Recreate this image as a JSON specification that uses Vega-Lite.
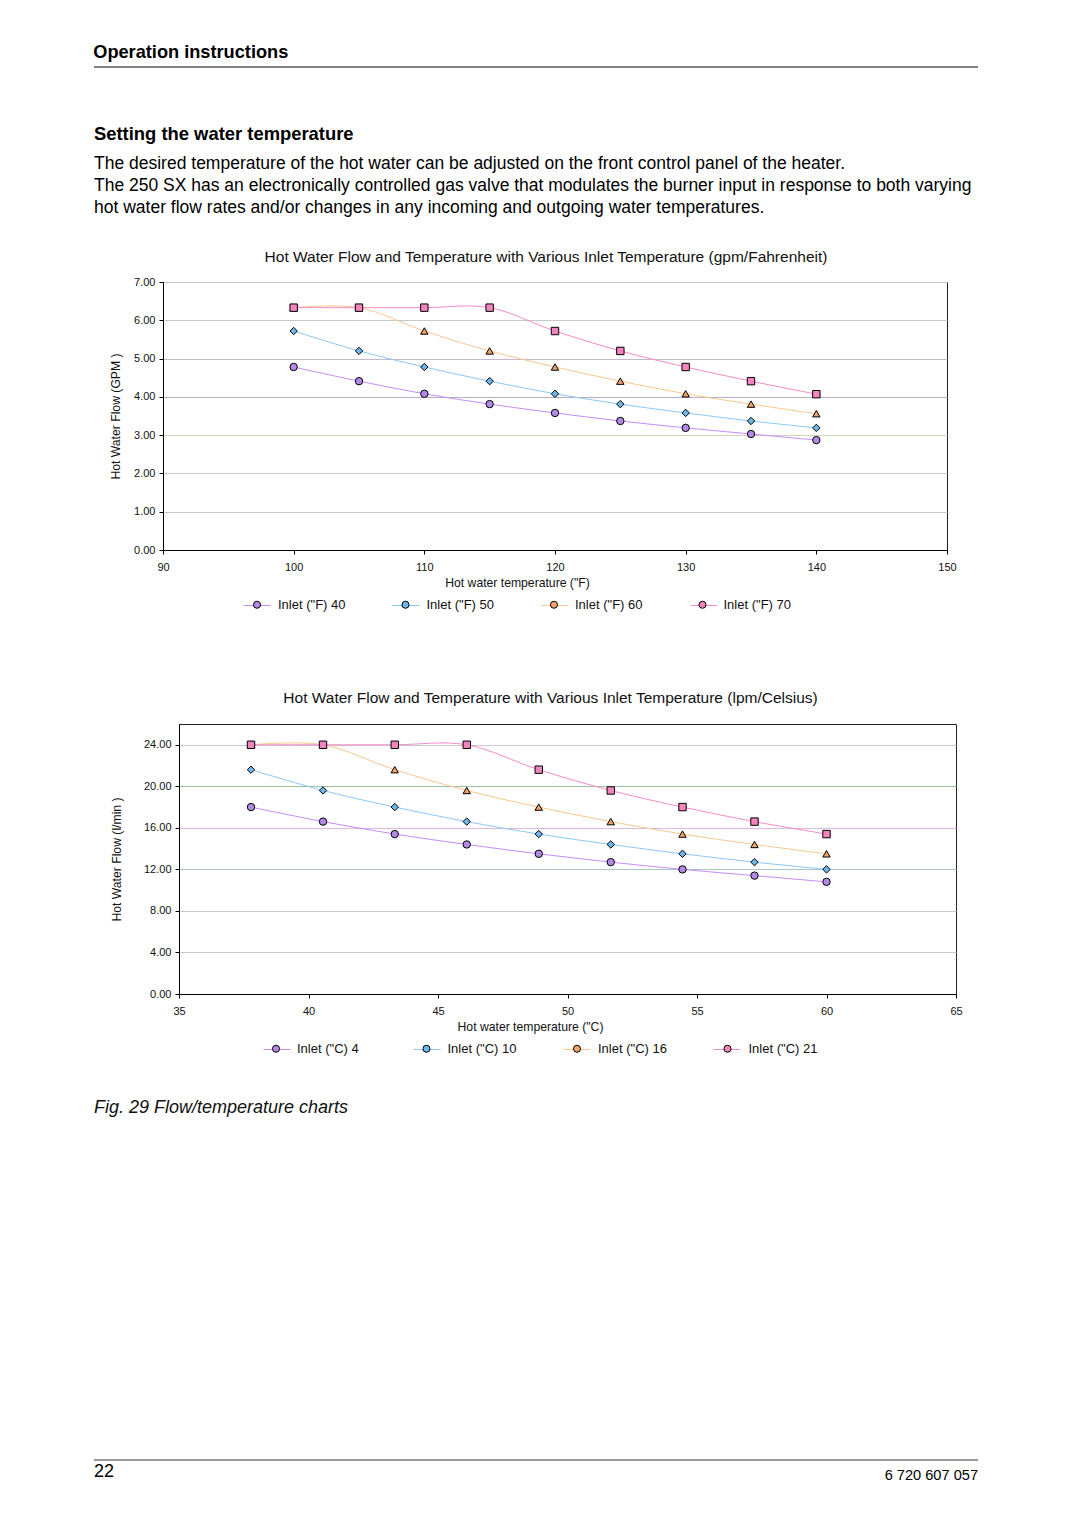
{
  "$schema": "https://vega.github.io/schema/vega-lite/v6.json",
  "background": "white",
  "padding": {"left": 93, "top": 42, "right": 0, "bottom": 0},
  "config": {
    "font": "Liberation Sans",
    "view": {"stroke": null},
    "title": {"font": "Liberation Sans", "fontWeight": "normal", "color": "#111"},
    "axis": {"labelFont": "Liberation Sans", "labelFontSize": 11, "labelColor": "#111", "labelFlush": false, "titleFont": "Liberation Sans", "titleFontSize": 12.2, "titleFontWeight": "normal", "titleColor": "#111", "domainColor": "#000", "tickColor": "#000", "tickSize": 4, "gridColor": "#c8c8c8"},
    "legend": {"labelFont": "Liberation Sans", "labelFontSize": 13, "labelColor": "#111", "padding": 0}
  },
  "columns": 1,
  "spacing": 56,
  "resolve": {"scale": {"color": "independent", "fill": "independent", "shape": "independent"}},
  "concat": [
    {
      "width": 884, "height": 1,
      "title": {"text": "Operation instructions", "anchor": "start", "fontSize": 18.2, "fontWeight": "bold", "color": "#000", "offset": 4},
      "data": {"values": [{"v": 0}]},
      "mark": {"type": "rule", "color": "#555", "strokeWidth": 1.5},
      "encoding": {"y": {"datum": 0, "type": "quantitative", "scale": {"domain": [0, 1]}, "axis": null}}
    },
    {
      "columns": 1,
      "spacing": 77,
      "resolve": {"scale": {"color": "independent", "fill": "independent", "shape": "independent"}},
      "concat": [
        {
          "title": {"text": "Setting the water temperature", "subtitle": ["The desired temperature of the hot water can be adjusted on the front control panel of the heater.", "The 250 SX has an electronically controlled gas valve that modulates the burner input in response to both varying", "hot water flow rates and/or changes in any incoming and outgoing water temperatures."], "anchor": "start", "fontSize": 18.4, "fontWeight": "bold", "color": "#000", "subtitleFont": "Liberation Sans", "subtitleFontSize": 17.5, "subtitleColor": "#000", "subtitlePadding": 12, "subtitleLineHeight": 22, "offset": 33},
          "spacing": 0,
          "resolve": {"scale": {"color": "independent", "fill": "independent", "shape": "independent"}},
          "hconcat": [
            {"width": 15, "height": 10, "data": {"values": []}, "mark": "point"},
            {
              "width": 784, "height": 268,
              "view": {"stroke": "#222", "strokeWidth": 1},
              "title": {"text": "Hot Water Flow and Temperature with Various Inlet Temperature (gpm/Fahrenheit)", "fontSize": 15.5, "anchor": "middle", "dx": -9, "offset": 10.5},
              "data": {"values": [
                {"temp": 100, "flow": 4.78, "series": "Inlet (\"F) 40"},
                {"temp": 105, "flow": 4.41, "series": "Inlet (\"F) 40"},
                {"temp": 110, "flow": 4.08, "series": "Inlet (\"F) 40"},
                {"temp": 115, "flow": 3.81, "series": "Inlet (\"F) 40"},
                {"temp": 120, "flow": 3.58, "series": "Inlet (\"F) 40"},
                {"temp": 125, "flow": 3.37, "series": "Inlet (\"F) 40"},
                {"temp": 130, "flow": 3.19, "series": "Inlet (\"F) 40"},
                {"temp": 135, "flow": 3.03, "series": "Inlet (\"F) 40"},
                {"temp": 140, "flow": 2.87, "series": "Inlet (\"F) 40"},
                {"temp": 100, "flow": 5.72, "series": "Inlet (\"F) 50"},
                {"temp": 105, "flow": 5.2, "series": "Inlet (\"F) 50"},
                {"temp": 110, "flow": 4.78, "series": "Inlet (\"F) 50"},
                {"temp": 115, "flow": 4.41, "series": "Inlet (\"F) 50"},
                {"temp": 120, "flow": 4.08, "series": "Inlet (\"F) 50"},
                {"temp": 125, "flow": 3.81, "series": "Inlet (\"F) 50"},
                {"temp": 130, "flow": 3.58, "series": "Inlet (\"F) 50"},
                {"temp": 135, "flow": 3.37, "series": "Inlet (\"F) 50"},
                {"temp": 140, "flow": 3.19, "series": "Inlet (\"F) 50"},
                {"temp": 100, "flow": 6.33, "series": "Inlet (\"F) 60"},
                {"temp": 105, "flow": 6.33, "series": "Inlet (\"F) 60"},
                {"temp": 110, "flow": 5.72, "series": "Inlet (\"F) 60"},
                {"temp": 115, "flow": 5.2, "series": "Inlet (\"F) 60"},
                {"temp": 120, "flow": 4.78, "series": "Inlet (\"F) 60"},
                {"temp": 125, "flow": 4.41, "series": "Inlet (\"F) 60"},
                {"temp": 130, "flow": 4.08, "series": "Inlet (\"F) 60"},
                {"temp": 135, "flow": 3.81, "series": "Inlet (\"F) 60"},
                {"temp": 140, "flow": 3.56, "series": "Inlet (\"F) 60"},
                {"temp": 100, "flow": 6.33, "series": "Inlet (\"F) 70"},
                {"temp": 105, "flow": 6.33, "series": "Inlet (\"F) 70"},
                {"temp": 110, "flow": 6.33, "series": "Inlet (\"F) 70"},
                {"temp": 115, "flow": 6.33, "series": "Inlet (\"F) 70"},
                {"temp": 120, "flow": 5.72, "series": "Inlet (\"F) 70"},
                {"temp": 125, "flow": 5.2, "series": "Inlet (\"F) 70"},
                {"temp": 130, "flow": 4.78, "series": "Inlet (\"F) 70"},
                {"temp": 135, "flow": 4.41, "series": "Inlet (\"F) 70"},
                {"temp": 140, "flow": 4.07, "series": "Inlet (\"F) 70"}
              ]},
              "encoding": {
                "x": {"field": "temp", "type": "quantitative", "scale": {"domain": [90, 150], "nice": false, "zero": false}, "axis": {"values": [90, 100, 110, 120, 130, 140, 150], "title": "Hot water temperature (\"F)", "grid": false, "labelPadding": 7, "titlePadding": 4, "titleX": 354}},
                "y": {"field": "flow", "type": "quantitative", "scale": {"domain": [0, 7], "nice": false}, "axis": {"values": [0, 1, 2, 3, 4, 5, 6, 7], "format": ".2f", "title": "Hot Water Flow (GPM )", "grid": true, "labelPadding": 4, "titlePadding": 11, "gridColor": {"condition": [{"test": "datum.value === 5", "value": "#c6b8cc"}, {"test": "datum.value === 4", "value": "#b9aec8"}, {"test": "datum.value === 3", "value": "#d6d3bd"}], "value": "#c8c8c8"}}}
              },
              "layer": [
                {
                  "mark": {"type": "line", "interpolate": "cardinal", "strokeWidth": 1},
                  "encoding": {"color": {"field": "series", "type": "nominal", "scale": {"domain": ["Inlet (\"F) 40", "Inlet (\"F) 50", "Inlet (\"F) 60", "Inlet (\"F) 70"], "range": ["#c78cf5", "#8cc8f5", "#f8c890", "#f58cc8"]}, "legend": {"orient": "none", "legendX": 80, "legendY": 309.5, "direction": "horizontal", "columns": 4, "gridAlign": "all", "symbolType": "stroke", "symbolSize": 729, "symbolStrokeWidth": 1, "labelOffset": 7, "columnPadding": 44, "labelOpacity": 0, "labelColor": "transparent", "title": null}}}
                },
                {
                  "mark": {"type": "point", "filled": true, "size": 55, "stroke": "#000", "strokeWidth": 1, "opacity": 1},
                  "encoding": {
                    "fill": {"field": "series", "type": "nominal", "sort": ["Inlet (\"F) 40", "Inlet (\"F) 50", "Inlet (\"F) 60", "Inlet (\"F) 70"], "scale": {"range": ["#b28ae6", "#6fb6e8", "#f2a266", "#f285bd"]}, "legend": {"orient": "none", "legendX": 87.5, "legendY": 316, "direction": "horizontal", "columns": 4, "gridAlign": "all", "symbolSize": 50, "symbolStrokeColor": "#000", "symbolStrokeWidth": 1, "labelOffset": 14.5, "columnPadding": 53.5, "title": null, "encode": {"symbols": {"shape": {"value": {"expr": "['circle','diamond','triangle-up','square'][parent.index]"}}, "stroke": {"value": "#000"}, "strokeWidth": {"value": 1}}}}},
                    "shape": {"field": "series", "type": "nominal", "sort": ["Inlet (\"F) 40", "Inlet (\"F) 50", "Inlet (\"F) 60", "Inlet (\"F) 70"], "scale": {"range": ["circle", "diamond", "triangle-up", "square"]}, "legend": null}
                  }
                }
              ]
            }
          ]
        },
        {
          "title": {"text": "Fig. 29  Flow/temperature charts", "orient": "bottom", "anchor": "start", "fontSize": 18, "fontStyle": "italic", "color": "#111", "offset": 42},
          "spacing": 0,
          "resolve": {"scale": {"color": "independent", "fill": "independent", "shape": "independent"}},
          "hconcat": [
            {"width": 15, "height": 10, "data": {"values": []}, "mark": "point"},
            {
              "width": 777, "height": 270,
              "view": {"stroke": "#222", "strokeWidth": 1},
              "title": {"text": "Hot Water Flow and Temperature with Various Inlet Temperature (lpm/Celsius)", "fontSize": 15.5, "anchor": "middle", "dx": -17, "offset": 17.5},
              "data": {"values": [
                {"temp": 37.78, "flow": 18.0, "series": "Inlet (\"C) 4"},
                {"temp": 40.56, "flow": 16.6, "series": "Inlet (\"C) 4"},
                {"temp": 43.33, "flow": 15.4, "series": "Inlet (\"C) 4"},
                {"temp": 46.11, "flow": 14.4, "series": "Inlet (\"C) 4"},
                {"temp": 48.89, "flow": 13.5, "series": "Inlet (\"C) 4"},
                {"temp": 51.67, "flow": 12.7, "series": "Inlet (\"C) 4"},
                {"temp": 54.44, "flow": 12.0, "series": "Inlet (\"C) 4"},
                {"temp": 57.22, "flow": 11.4, "series": "Inlet (\"C) 4"},
                {"temp": 60.0, "flow": 10.8, "series": "Inlet (\"C) 4"},
                {"temp": 37.78, "flow": 21.6, "series": "Inlet (\"C) 10"},
                {"temp": 40.56, "flow": 19.6, "series": "Inlet (\"C) 10"},
                {"temp": 43.33, "flow": 18.0, "series": "Inlet (\"C) 10"},
                {"temp": 46.11, "flow": 16.6, "series": "Inlet (\"C) 10"},
                {"temp": 48.89, "flow": 15.4, "series": "Inlet (\"C) 10"},
                {"temp": 51.67, "flow": 14.4, "series": "Inlet (\"C) 10"},
                {"temp": 54.44, "flow": 13.5, "series": "Inlet (\"C) 10"},
                {"temp": 57.22, "flow": 12.7, "series": "Inlet (\"C) 10"},
                {"temp": 60.0, "flow": 12.0, "series": "Inlet (\"C) 10"},
                {"temp": 37.78, "flow": 24.0, "series": "Inlet (\"C) 16"},
                {"temp": 40.56, "flow": 24.0, "series": "Inlet (\"C) 16"},
                {"temp": 43.33, "flow": 21.6, "series": "Inlet (\"C) 16"},
                {"temp": 46.11, "flow": 19.6, "series": "Inlet (\"C) 16"},
                {"temp": 48.89, "flow": 18.0, "series": "Inlet (\"C) 16"},
                {"temp": 51.67, "flow": 16.6, "series": "Inlet (\"C) 16"},
                {"temp": 54.44, "flow": 15.4, "series": "Inlet (\"C) 16"},
                {"temp": 57.22, "flow": 14.4, "series": "Inlet (\"C) 16"},
                {"temp": 60.0, "flow": 13.5, "series": "Inlet (\"C) 16"},
                {"temp": 37.78, "flow": 24.0, "series": "Inlet (\"C) 21"},
                {"temp": 40.56, "flow": 24.0, "series": "Inlet (\"C) 21"},
                {"temp": 43.33, "flow": 24.0, "series": "Inlet (\"C) 21"},
                {"temp": 46.11, "flow": 24.0, "series": "Inlet (\"C) 21"},
                {"temp": 48.89, "flow": 21.6, "series": "Inlet (\"C) 21"},
                {"temp": 51.67, "flow": 19.6, "series": "Inlet (\"C) 21"},
                {"temp": 54.44, "flow": 18.0, "series": "Inlet (\"C) 21"},
                {"temp": 57.22, "flow": 16.6, "series": "Inlet (\"C) 21"},
                {"temp": 60.0, "flow": 15.4, "series": "Inlet (\"C) 21"}
              ]},
              "encoding": {
                "x": {"field": "temp", "type": "quantitative", "scale": {"domain": [35, 65], "nice": false, "zero": false}, "axis": {"values": [35, 40, 45, 50, 55, 60, 65], "title": "Hot water temperature (\"C)", "grid": false, "labelPadding": 7, "titlePadding": 4, "titleX": 351}},
                "y": {"field": "flow", "type": "quantitative", "scale": {"domain": [0, 26], "nice": false}, "axis": {"values": [0, 4, 8, 12, 16, 20, 24], "format": ".2f", "title": "Hot Water Flow (l/min  )", "grid": true, "labelPadding": 4, "titlePadding": 20, "gridColor": {"condition": [{"test": "datum.value === 20", "value": "#9cc49c"}, {"test": "datum.value === 16", "value": "#dcb8e2"}, {"test": "datum.value === 12", "value": "#a9c6c2"}], "value": "#c8c8c8"}}}
              },
              "layer": [
                {
                  "mark": {"type": "line", "interpolate": "cardinal", "strokeWidth": 1},
                  "encoding": {"color": {"field": "series", "type": "nominal", "scale": {"domain": ["Inlet (\"C) 4", "Inlet (\"C) 10", "Inlet (\"C) 16", "Inlet (\"C) 21"], "range": ["#c78cf5", "#8cc8f5", "#f8c890", "#f58cc8"]}, "legend": {"orient": "none", "legendX": 84, "legendY": 311.5, "direction": "horizontal", "columns": 4, "gridAlign": "all", "symbolType": "stroke", "symbolSize": 729, "symbolStrokeWidth": 1, "labelOffset": 7, "columnPadding": 44, "labelOpacity": 0, "labelColor": "transparent", "title": null}}}
                },
                {
                  "mark": {"type": "point", "filled": true, "size": 55, "stroke": "#000", "strokeWidth": 1, "opacity": 1},
                  "encoding": {
                    "fill": {"field": "series", "type": "nominal", "sort": ["Inlet (\"C) 4", "Inlet (\"C) 10", "Inlet (\"C) 16", "Inlet (\"C) 21"], "scale": {"range": ["#b28ae6", "#6fb6e8", "#f2a266", "#f285bd"]}, "legend": {"orient": "none", "legendX": 90.5, "legendY": 318, "direction": "horizontal", "columns": 4, "gridAlign": "all", "symbolSize": 50, "symbolStrokeColor": "#000", "symbolStrokeWidth": 1, "labelOffset": 14.5, "columnPadding": 53.5, "title": null, "encode": {"symbols": {"shape": {"value": {"expr": "['circle','diamond','triangle-up','square'][parent.index]"}}, "stroke": {"value": "#000"}, "strokeWidth": {"value": 1}}}}},
                    "shape": {"field": "series", "type": "nominal", "sort": ["Inlet (\"C) 4", "Inlet (\"C) 10", "Inlet (\"C) 16", "Inlet (\"C) 21"], "scale": {"range": ["circle", "diamond", "triangle-up", "square"]}, "legend": null}
                  }
                }
              ]
            }
          ]
        }
      ]
    },
    {
      "width": 884, "height": 287,
      "data": {"values": [{"page": "22", "code": "6 720 607 057"}]},
      "layer": [
        {"mark": {"type": "rule", "color": "#777", "strokeWidth": 1.5}, "encoding": {"y": {"datum": 0, "type": "quantitative", "scale": {"domain": [0, 1]}, "axis": null}}},
        {"mark": {"type": "text", "align": "left", "baseline": "top", "fontSize": 18, "dy": 3, "color": "#000"}, "encoding": {"text": {"field": "page"}, "x": {"datum": 0, "type": "quantitative", "scale": {"domain": [0, 1]}, "axis": null}, "y": {"datum": 0, "type": "quantitative", "scale": {"domain": [0, 1]}, "axis": null}}},
        {"mark": {"type": "text", "align": "right", "baseline": "top", "fontSize": 14.6, "dy": 8, "color": "#000"}, "encoding": {"text": {"field": "code"}, "x": {"datum": 1, "type": "quantitative", "scale": {"domain": [0, 1]}, "axis": null}, "y": {"datum": 0, "type": "quantitative", "scale": {"domain": [0, 1]}, "axis": null}}}
      ]
    }
  ]
}
